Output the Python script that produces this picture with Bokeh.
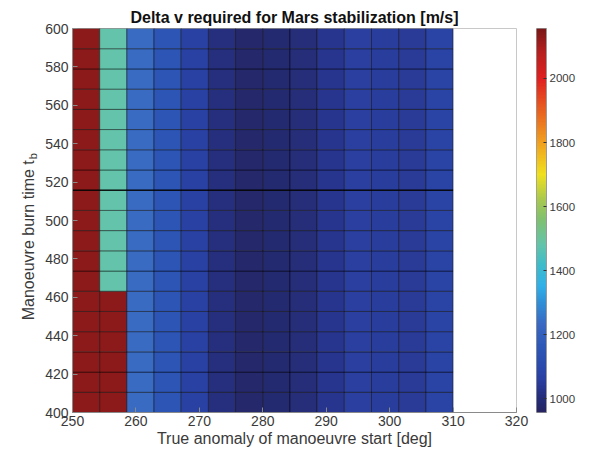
import math
import numpy as np
from bokeh.plotting import figure
from bokeh.layouts import row
from bokeh.models import (LinearColorMapper, FixedTicker, Label, Title,
                          ColumnDataSource, Range1d)
from bokeh.embed import file_html
from bokeh.resources import INLINE

# ---------------- data ----------------
# cell edges (pcolor grid nodes)
x_edges = [250.00, 254.29, 258.57, 262.86, 267.14, 271.43, 275.71, 280.00,
           284.29, 288.57, 292.86, 297.14, 301.43, 305.71, 310.00]
y_edges = [400.00, 410.53, 421.05, 431.58, 442.11, 452.63, 463.16, 473.68,
           484.21, 494.74, 505.26, 515.79, 526.32, 536.84, 547.37, 557.89,
           568.42, 578.95, 589.47, 600.00]

# Delta v [m/s], rows from bottom (t_b = 400) to top (t_b = 600)
dv = [
    [2130, 2130, 1235, 1150, 1065, 1005, 975, 982, 1000, 1028, 1060, 1052, 1045, 1075],
    [2130, 2130, 1235, 1150, 1065, 1005, 975, 982, 1000, 1028, 1060, 1052, 1045, 1075],
    [2130, 2130, 1235, 1150, 1065, 1005, 975, 982, 1000, 1028, 1060, 1052, 1045, 1075],
    [2130, 2130, 1235, 1150, 1065, 1005, 975, 982, 1000, 1028, 1060, 1052, 1045, 1075],
    [2130, 2130, 1235, 1150, 1065, 1005, 975, 982, 1000, 1028, 1060, 1052, 1045, 1075],
    [2130, 2130, 1235, 1150, 1065, 1005, 975, 982, 1000, 1028, 1060, 1052, 1045, 1075],
    [2130, 1480, 1235, 1150, 1065, 1005, 975, 982, 1000, 1028, 1060, 1052, 1045, 1075],
    [2130, 1480, 1235, 1150, 1065, 1005, 975, 982, 1000, 1028, 1060, 1052, 1045, 1075],
    [2130, 1480, 1235, 1150, 1065, 1005, 975, 982, 1000, 1028, 1060, 1052, 1045, 1075],
    [2130, 1480, 1235, 1150, 1065, 1005, 975, 982, 1000, 1028, 1060, 1052, 1045, 1075],
    [2130, 1480, 1235, 1150, 1065, 1005, 975, 982, 1000, 1028, 1060, 1052, 1045, 1075],
    [2130, 1480, 1235, 1150, 1065, 1005, 975, 982, 1000, 1028, 1060, 1052, 1045, 1075],
    [2130, 1480, 1235, 1150, 1065, 1005, 975, 982, 1000, 1028, 1060, 1052, 1045, 1075],
    [2130, 1480, 1235, 1150, 1065, 1005, 975, 982, 1000, 1028, 1060, 1052, 1045, 1075],
    [2130, 1480, 1235, 1150, 1065, 1005, 975, 982, 1000, 1028, 1060, 1052, 1045, 1075],
    [2130, 1480, 1235, 1150, 1065, 1005, 975, 982, 1000, 1028, 1060, 1052, 1045, 1075],
    [2130, 1480, 1235, 1150, 1065, 1005, 975, 982, 1000, 1028, 1060, 1052, 1045, 1075],
    [2130, 1480, 1235, 1150, 1065, 1005, 975, 982, 1000, 1028, 1060, 1052, 1045, 1075],
    [2130, 1480, 1235, 1150, 1065, 1005, 975, 982, 1000, 1028, 1060, 1052, 1045, 1075],
]

x_ticks = [250, 260, 270, 280, 290, 300, 310, 320]
y_ticks = [400, 420, 440, 460, 480, 500, 520, 540, 560, 580, 600]
cb_ticks = [1000, 1200, 1400, 1600, 1800, 2000]
cb_low, cb_high = 957, 2156

title_text = "Delta v required for Mars stabilization [m/s]"
xlabel_text = "True anomaly of manoeuvre start [deg]"
ylabel_text = "Manoeuvre burn time t"
ylabel_sub = "b"

# ---------------- colormap (jet-like, as printed) ----------------
anchors = [
    (957, "#262462"), (980, "#242a70"), (1000, "#262e7a"), (1030, "#283690"),
    (1060, "#2a40a2"), (1100, "#2b4aae"), (1150, "#2c55b6"), (1230, "#3a68c2"),
    (1300, "#3090d8"), (1350, "#30b0e8"), (1420, "#40bcc8"), (1480, "#64c4aa"),
    (1560, "#80c070"), (1620, "#a8c850"), (1700, "#f0e020"), (1800, "#f0a020"),
    (1900, "#e86020"), (2000, "#e02020"), (2080, "#b82020"), (2156, "#7a1818"),
]


def hex2rgb(h):
    return tuple(int(h[i:i + 2], 16) for i in (1, 3, 5))


palette = []
N = 256
for i in range(N):
    v = cb_low + (cb_high - cb_low) * i / (N - 1)
    for k in range(len(anchors) - 1):
        v0, c0 = anchors[k]
        v1, c1 = anchors[k + 1]
        if v0 <= v <= v1:
            t = (v - v0) / (v1 - v0)
            a, b = hex2rgb(c0), hex2rgb(c1)
            palette.append("#%02x%02x%02x" % tuple(round(a[j] + (b[j] - a[j]) * t) for j in range(3)))
            break

mapper = LinearColorMapper(palette=palette, low=cb_low, high=cb_high)

# ---------------- cells ----------------
left, right, bottom, top, val = [], [], [], [], []
for r, row_vals in enumerate(dv):
    for c, v in enumerate(row_vals):
        left.append(x_edges[c])
        right.append(x_edges[c + 1])
        bottom.append(y_edges[r])
        top.append(y_edges[r + 1])
        val.append(v)
src = ColumnDataSource(dict(left=left, right=right, bottom=bottom, top=top, dv=val))

FONT = "Liberation Sans"
TXT = "#3a3a3a"
H = 452
LAB_W = 40
TOP = 28
BOTTOM = 40
MAIN_W = 32 + 444 + 20
CB_W = 578 - LAB_W - MAIN_W

title = Title(text=title_text, align="center", text_font=FONT, text_font_size="16px",
              text_font_style="bold", text_color="#111111", standoff=6)

p = figure(width=MAIN_W, height=H, output_backend="svg", title=title,
           toolbar_location=None, x_range=Range1d(250, 320), y_range=Range1d(400, 600),
           min_border_left=72 - LAB_W, min_border_right=20, min_border_top=TOP,
           min_border_bottom=BOTTOM,
           background_fill_color="white", border_fill_color="white")

p.quad(left="left", right="right", bottom="bottom", top="top", source=src,
       fill_color={"field": "dv", "transform": mapper},
       line_color="black", line_alpha=0.45, line_width=1)
# darker grid line as in the original
p.segment(x0=[x_edges[0]], x1=[x_edges[-1]], y0=[y_edges[11]], y1=[y_edges[11]],
          line_color="black", line_alpha=0.8, line_width=1.6)

p.xgrid.visible = False
p.ygrid.visible = False
p.outline_line_color = "#c8c8c8"

for ax in (p.xaxis[0], p.yaxis[0]):
    ax.major_tick_in = 5
    ax.major_tick_out = 0
    ax.minor_tick_in = 0
    ax.minor_tick_out = 0
    ax.axis_line_color = "#8a8a8a"
    ax.major_tick_line_color = "#8a8a8a"
    ax.major_label_text_font = FONT
    ax.major_label_text_font_size = "14px"
    ax.major_label_text_color = TXT

p.xaxis.ticker = FixedTicker(ticks=x_ticks)
p.yaxis.ticker = FixedTicker(ticks=y_ticks)
p.xaxis.major_label_standoff = 3
p.yaxis.major_label_standoff = 4
p.xaxis.axis_label = xlabel_text
p.xaxis.axis_label_text_font = FONT
p.xaxis.axis_label_text_font_size = "16px"
p.xaxis.axis_label_text_font_style = "normal"
p.xaxis.axis_label_text_color = TXT
p.xaxis.axis_label_standoff = 1

# ---------------- colour bar in its own narrow figure ----------------
cbf = figure(width=CB_W, height=H, output_backend="svg", toolbar_location=None,
             x_range=Range1d(0, 1), y_range=Range1d(cb_low, cb_high),
             x_axis_type=None, y_axis_location="right",
             min_border_left=0, min_border_right=CB_W - 13,
             min_border_top=TOP, min_border_bottom=BOTTOM,
             background_fill_color="white", border_fill_color="white")
cb_vals = np.linspace(cb_low, cb_high, 512).reshape(-1, 1)
cbf.image(image=[cb_vals], x=0, y=cb_low, dw=1, dh=cb_high - cb_low, color_mapper=mapper)
cbf.grid.visible = False
cbf.outline_line_color = "#9a9a9a"
cax = cbf.yaxis[0]
cax.ticker = FixedTicker(ticks=cb_ticks)
cax.major_tick_in = 3
cax.major_tick_out = 0
cax.minor_tick_in = 0
cax.minor_tick_out = 0
cax.axis_line_color = "#9a9a9a"
cax.major_tick_line_color = "#333333"
cax.major_label_standoff = 3
cax.major_label_text_font = FONT
cax.major_label_text_font_size = "11.5px"
cax.major_label_text_color = TXT

# ---------------- y-axis label (with subscript) in a narrow side figure ----------------
lab = figure(width=LAB_W, height=H, output_backend="svg", toolbar_location=None,
             x_range=Range1d(0, LAB_W), y_range=Range1d(0, H),
             x_axis_type=None, y_axis_type=None, min_border=0,
             background_fill_color="white", border_fill_color="white")
lab.outline_line_color = None
lab.grid.visible = False
lab.add_layout(Label(x=28, y=H - 155, text=ylabel_text, angle=math.pi / 2,
                     text_align="right", text_baseline="alphabetic",
                     text_font=FONT, text_font_size="16px", text_color=TXT))
lab.add_layout(Label(x=32, y=H - 154, text=ylabel_sub, angle=math.pi / 2,
                     text_align="left", text_baseline="alphabetic",
                     text_font=FONT, text_font_size="11px", text_color=TXT))

layout = row(lab, p, cbf)
open("out.html", "w").write(file_html(layout, INLINE))
